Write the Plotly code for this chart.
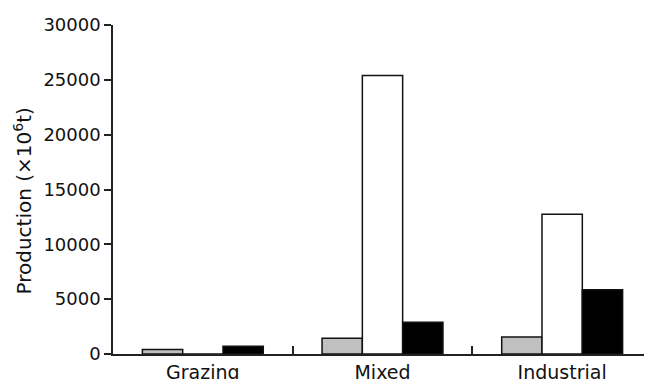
import plotly.graph_objects as go

categories = ["Grazing", "Mixed", "Industrial"]
series_gray = [400, 1430, 1550]
series_white = [0, 25400, 12750]
series_black = [700, 2900, 5850]
y_ticks = [0, 5000, 10000, 15000, 20000, 25000, 30000]

FONT = "DejaVu Sans"
fig = go.Figure()
for vals, color in [(series_gray, "#c0c0c0"), (series_white, "#ffffff"), (series_black, "#000000")]:
    fig.add_trace(go.Bar(x=categories, y=vals, marker=dict(color=color, line=dict(color="#111111", width=1.5)),
                         showlegend=False))

# page body has an 8px default margin; size the figure to fit the 652x379 window
fig.update_layout(
    width=644, height=371,
    margin=dict(l=105, r=0, t=17, b=25),
    paper_bgcolor="white", plot_bgcolor="white",
    barmode="group", bargap=0.327, bargroupgap=0,
    font=dict(family=FONT, color="#111111"),
    xaxis=dict(showline=True, linecolor="#222222", linewidth=1.5, ticks="inside", tickson="boundaries",
               ticklen=8, tickwidth=1.5, tickcolor="#222222", showgrid=False, automargin=False,
               tickfont=dict(size=19, family=FONT, color="#111111")),
    yaxis=dict(range=[0, 30000], tickvals=y_ticks, ticktext=[str(v) for v in y_ticks],
               showline=True, linecolor="#222222", linewidth=1.5, ticks="outside", ticklen=7,
               tickwidth=1.5, tickcolor="#222222", showgrid=False, zeroline=False, automargin=False,
               tickfont=dict(size=18, family=FONT, color="#111111")),
    annotations=[dict(text="Production (×10<sup>6</sup>t)", textangle=-90, xref="paper", yref="paper",
                      x=0, y=0.5, xanchor="center", yanchor="middle", xshift=-91, yshift=-12,
                      showarrow=False, font=dict(size=20, family=FONT, color="#111111"))],
)
fig.write_html("out.html")
